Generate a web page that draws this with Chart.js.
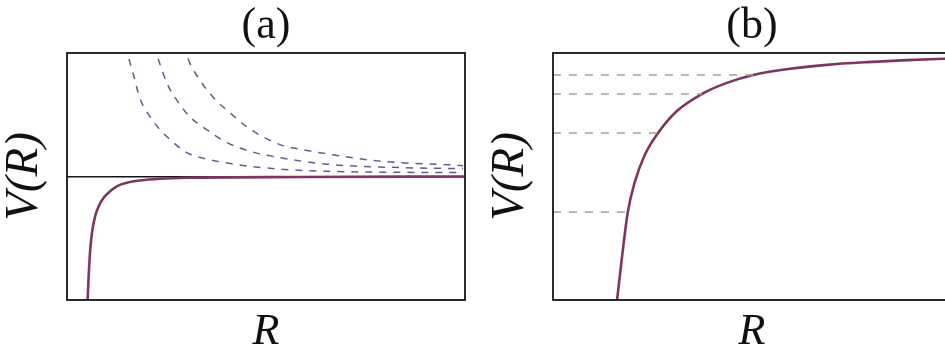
<!DOCTYPE html>
<html>
<head>
<meta charset="utf-8">
<script src="https://cdn.jsdelivr.net/npm/chart.js@4.4.0/dist/chart.umd.min.js"></script>
<style>
  html, body { margin: 0; padding: 0; background: #fff; overflow: hidden; width: 945px; height: 356px; }
  .panel { position: absolute; top: 0; }
</style>
</head>
<body>
<canvas id="panelA" class="panel" width="532" height="356" style="left:0px"></canvas>
<canvas id="panelB" class="panel" width="532" height="356" style="left:486px"></canvas>
<script>
// Panel (a): attractive curve and three repulsive curves, V against R
const boundR = [0.50, 0.52, 0.545, 0.585, 0.63, 0.71, 0.80, 0.92, 1.09, 1.26, 1.51, 1.84, 2.34, 3.02, 5.85, 10.0];
const boundV = [-5.8, -4.94, -4.00, -2.93, -2.25, -1.59, -1.19, -0.86, -0.59, -0.39, -0.25, -0.16, -0.09, -0.05, -0.02, 0.0];

const repR1 = [1.46, 1.53, 1.66, 1.83, 2.09, 2.34, 2.59, 3.02, 3.59, 4.47, 5.35, 6.53, 8.37, 9.95];
const repV1 = [5.3, 4.90, 4.18, 3.17, 2.41, 1.89, 1.49, 0.96, 0.68, 0.44, 0.30, 0.21, 0.17, 0.16];

const repR2 = [2.17, 2.26, 2.51, 2.76, 3.09, 3.52, 4.02, 4.67, 5.35, 6.53, 8.37, 9.95];
const repV2 = [5.3, 4.90, 3.78, 3.09, 2.41, 1.89, 1.37, 0.99, 0.76, 0.50, 0.36, 0.32];

const repR3 = [2.91, 2.99, 3.09, 3.34, 3.67, 4.10, 4.52, 4.92, 5.35, 5.93, 6.68, 7.54, 8.37, 9.55, 9.95];
const repV3 = [5.3, 4.98, 4.58, 3.90, 3.21, 2.57, 2.01, 1.61, 1.29, 1.08, 0.88, 0.68, 0.56, 0.48, 0.44];

// Panel (b): potential well with bound levels near the dissociation limit
const wellR = [1.58, 1.61, 1.72, 1.88, 2.05, 2.30, 2.64, 3.10, 3.74, 4.35, 5.03, 5.95, 6.88, 7.90, 8.90, 10.0];
const wellV = [-0.45, 0.0, 1.55, 3.56, 4.75, 5.85, 6.76, 7.63, 8.34, 8.78, 9.11, 9.36, 9.52, 9.63, 9.71, 9.78];

const levelV = [9.11, 8.34, 6.76, 3.56];
const levelEndR = [5.03, 3.74, 2.64, 1.88];

const panelTitles = ['(a)', '(b)'];
const xLabel = 'R';
const yLabel = 'V(R)';

const SERIF = "'Liberation Serif', 'Times New Roman', serif";
const CURVE = '#7e3561';
const REPULSIVE = '#5e5e8e';
const LEVEL = '#a3a38a';

function pts(xs, ys) {
  return xs.map((x, i) => ({ x: x, y: ys[i] }));
}

// Plot frame around the chart area
const framePlugin = {
  id: 'frame',
  afterDatasetsDraw(chart) {
    const { ctx, chartArea: a } = chart;
    ctx.save();
    ctx.strokeStyle = '#151515';
    ctx.lineWidth = 1.8;
    ctx.strokeRect(a.left, a.top, a.right - a.left, a.bottom - a.top);
    ctx.restore();
  }
};

function makeOptions(title, yMin, yMax, zeroLine) {
  return {
    responsive: false,
    animation: false,
    devicePixelRatio: 1,
    layout: { padding: { left: 0, right: 0, top: 0, bottom: 2 }, autoPadding: false },
    plugins: {
      legend: { display: false },
      tooltip: { enabled: false },
      title: {
        display: true,
        text: title,
        color: '#111',
        font: { family: SERIF, size: 44, weight: 'normal', lineHeight: 1 },
        padding: { top: 4, bottom: 5 }
      }
    },
    elements: { point: { radius: 0 }, line: { cubicInterpolationMode: 'monotone' } },
    scales: {
      x: {
        type: 'linear', min: 0, max: 10,
        ticks: { display: false },
        grid: { display: false, drawTicks: false },
        border: { display: false },
        title: {
          display: true, text: xLabel, color: '#111',
          font: { family: SERIF, size: 44, style: 'italic', weight: 'normal', lineHeight: 1 },
          padding: { top: 10, bottom: 0 }
        }
      },
      y: {
        type: 'linear', min: yMin, max: yMax, position: 'left',
        ticks: { display: false, stepSize: 5 },
        grid: {
          display: zeroLine,
          drawTicks: false,
          color: c => (c.tick && c.tick.value === 0) ? '#151515' : 'rgba(0,0,0,0)',
          lineWidth: 1.6
        },
        border: { display: false },
        title: {
          display: true, text: yLabel, color: '#111',
          font: { family: SERIF, size: 47, style: 'italic', weight: 'normal', lineHeight: 1 },
          padding: { top: 1.5, bottom: 18.5 }
        }
      },
      // empty right-hand axis that balances the left one so the title sits over the plot
      yRight: {
        type: 'linear', position: 'right', display: true,
        ticks: { display: false },
        grid: { display: false, drawTicks: false },
        border: { display: false },
        afterFit(scale) { scale.width = 67; }
      }
    }
  };
}

new Chart(document.getElementById('panelA'), {
  type: 'line',
  data: {
    datasets: [
      { data: pts(repR1, repV1), borderColor: REPULSIVE, borderWidth: 1.5, borderDash: [7, 7] },
      { data: pts(repR2, repV2), borderColor: REPULSIVE, borderWidth: 1.5, borderDash: [7, 7] },
      { data: pts(repR3, repV3), borderColor: REPULSIVE, borderWidth: 1.5, borderDash: [7, 7] },
      { data: pts(boundR, boundV), borderColor: CURVE, borderWidth: 2.6 }
    ]
  },
  options: makeOptions(panelTitles[0], -5, 5, true),
  plugins: [framePlugin]
});

const levelSets = levelV.map((v, i) => ({
  data: [{ x: 0, y: v }, { x: levelEndR[i], y: v }],
  borderColor: LEVEL, borderWidth: 1.5, borderDash: [8, 8], cubicInterpolationMode: 'default', tension: 0
}));

new Chart(document.getElementById('panelB'), {
  type: 'line',
  data: {
    datasets: levelSets.concat([
      { data: pts(wellR, wellV), borderColor: CURVE, borderWidth: 2.6 }
    ])
  },
  options: makeOptions(panelTitles[1], 0, 10, false),
  plugins: [framePlugin]
});
</script>
</body>
</html>
